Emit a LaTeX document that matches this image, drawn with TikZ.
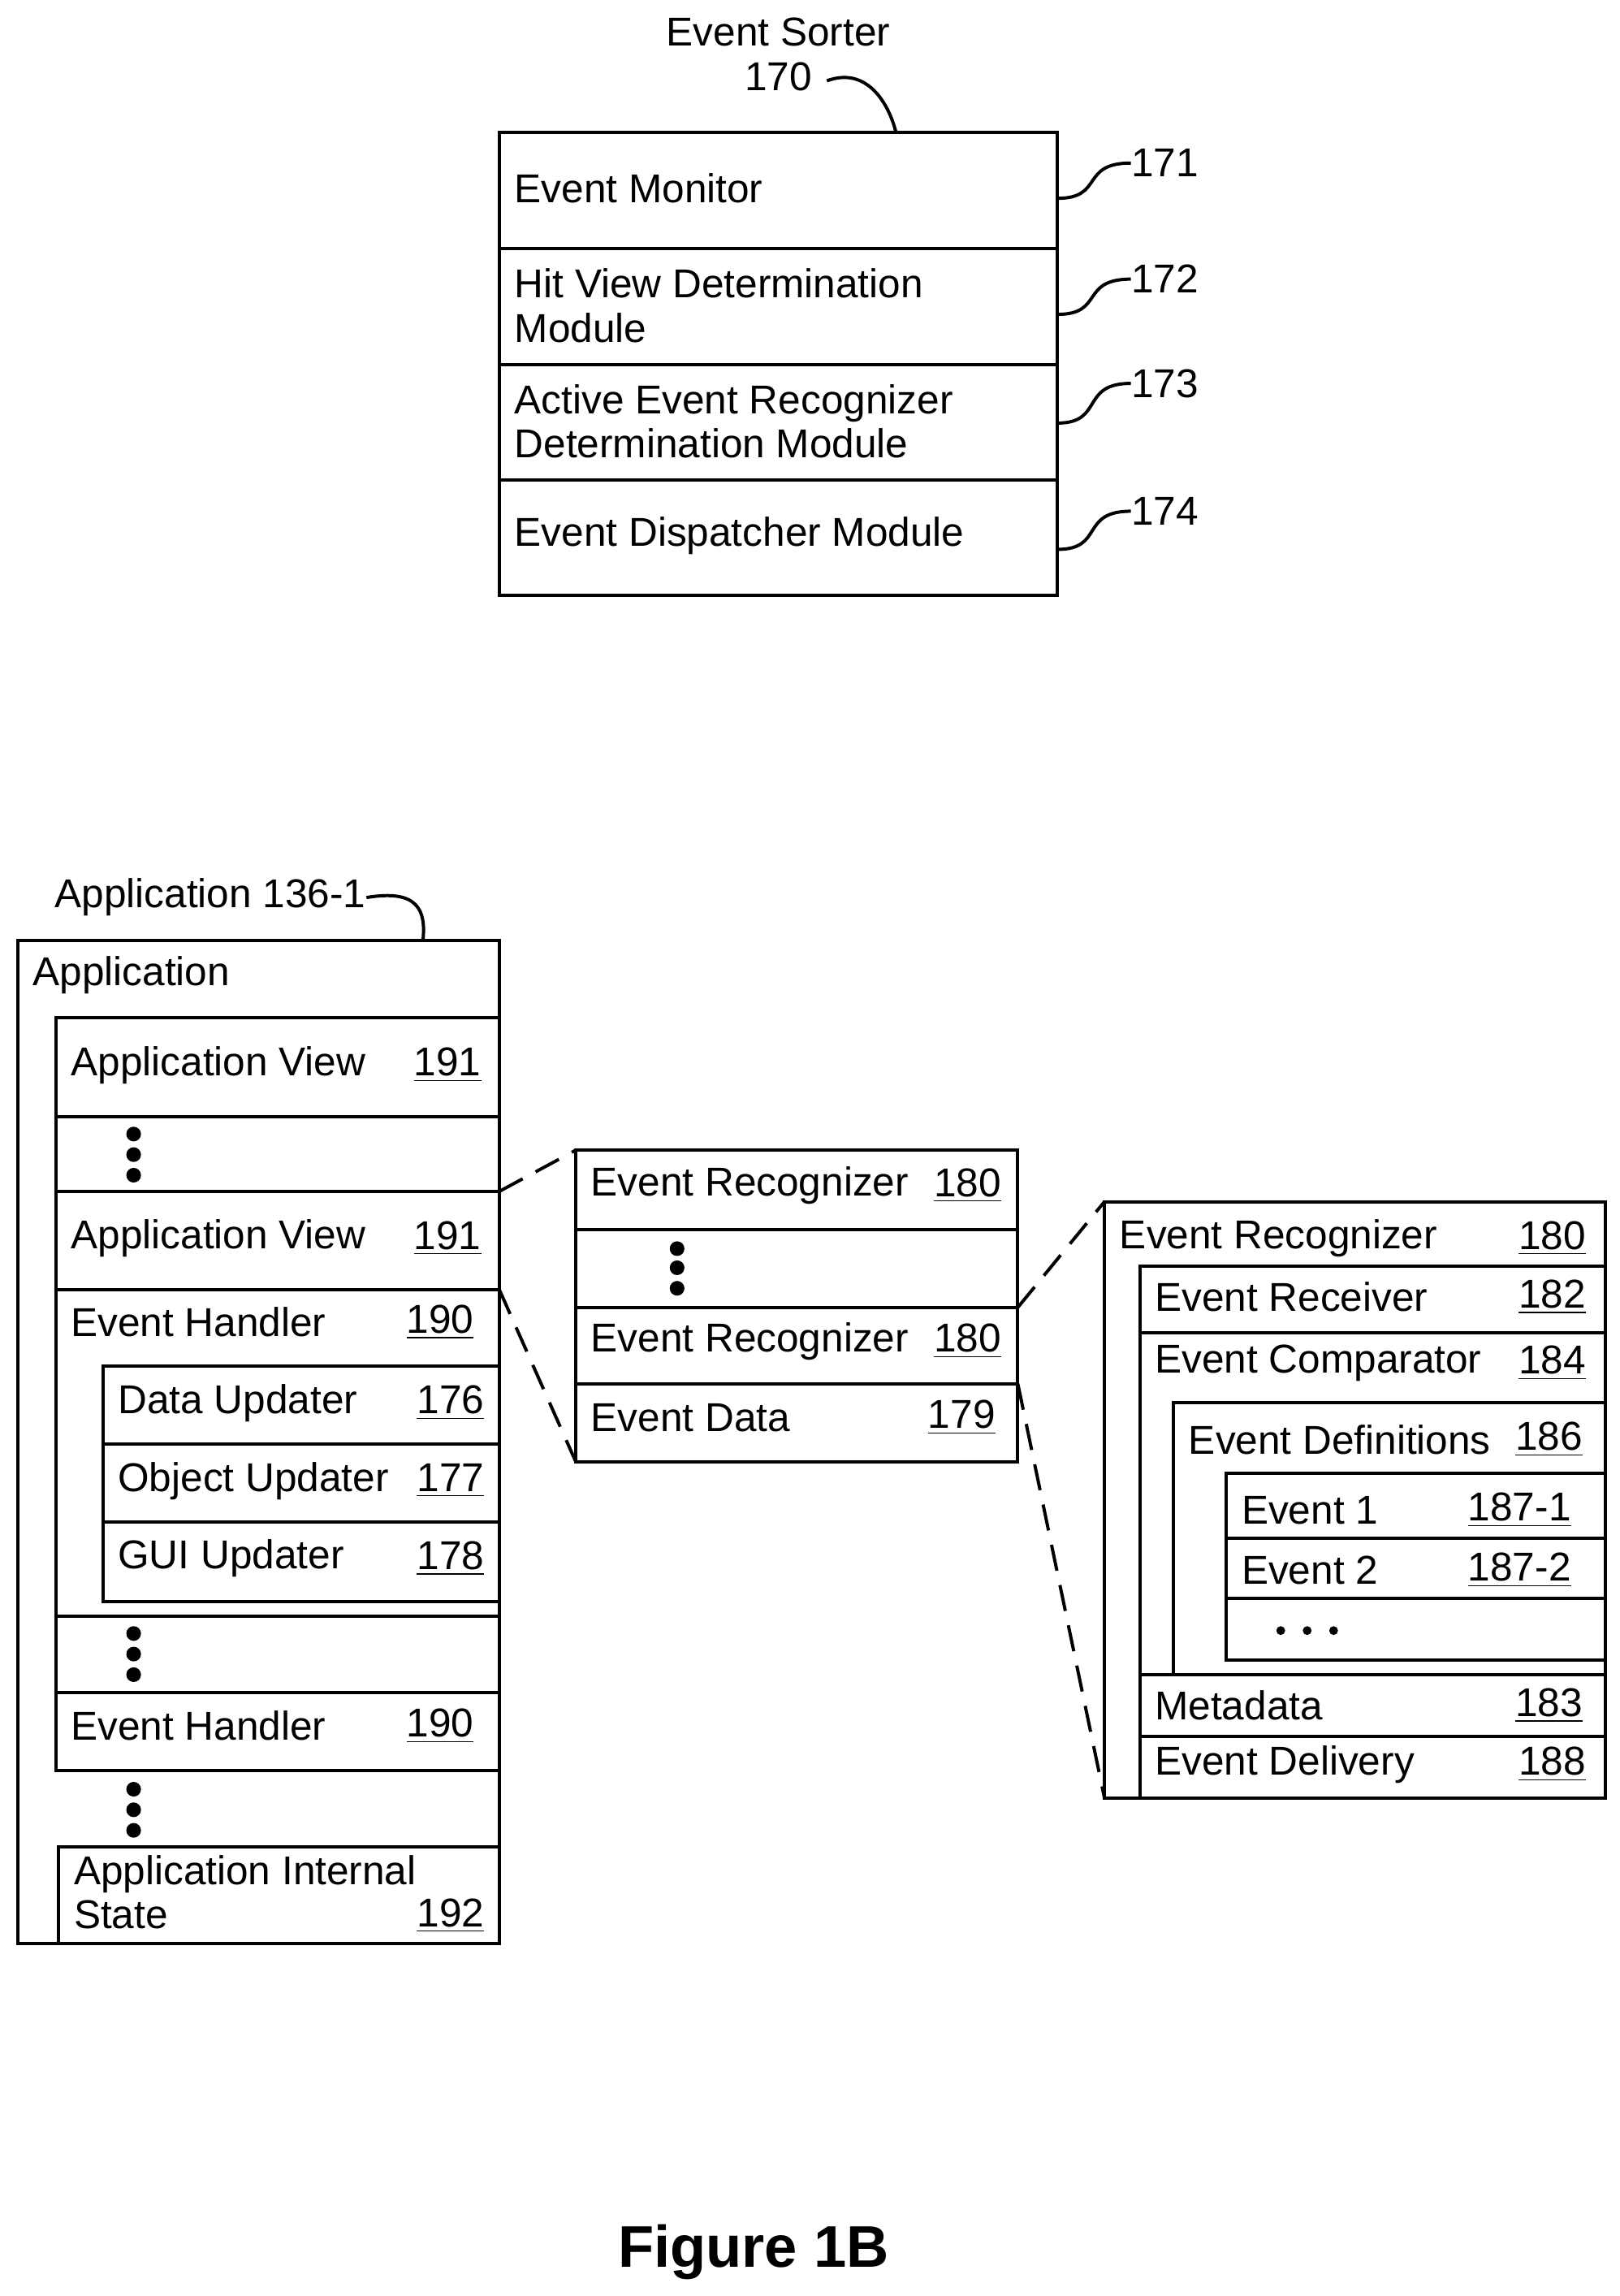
\documentclass[tikz,border=0pt]{standalone}
\usepackage{fontspec}
\setmainfont{Liberation Sans}
\begin{document}
\begin{tikzpicture}[x=0.5pt,y=-0.5pt,
 box/.style={draw,line width=1.1pt},
 t/.style={anchor=west,inner sep=0pt,font=\fontsize{13.7}{15}\selectfont},
 n/.style={anchor=east,inner sep=0pt,font=\fontsize{13.7}{15}\selectfont},
 dashl/.style={line width=1.1pt,dash pattern=on 9pt off 5pt},
 lead/.style={line width=1.1pt},
 dot/.style={circle,fill,inner sep=0pt,minimum size=5pt}]
\useasboundingbox (0,0) rectangle (1103,1563);
% Event sorter
\foreach \a/\b in {90/169,169/248,248/327,327/405}{\draw[box] (340,\a) rectangle (720,\b);}
\node[t] (em) at (350,128) {Event Monitor};
\node[t,align=left] (hv) at (350,208) {Hit View Determination\\Module};
\node[t,align=left] (ae) at (350,287) {Active Event Recognizer\\Determination Module};
\node[t] (ed) at (350,365) {Event Dispatcher Module};
\node[inner sep=0pt,font=\fontsize{13.7}{15}\selectfont,align=center] (es) at (530,37) {Event Sorter\\170};
\coordinate (esA) at (563,55); \coordinate (esB) at (610,90);
\draw[lead] (esA) .. controls (590,45) and (605,70) .. (esB);
\foreach \y/\l/\c in {111/171/135,190/172/214,261/173/288,348/174/374}{
 \node[t] (L\l) at (770,\y) {\l};
 \draw[lead] (720,\c) .. controls (752,\c) and (735,\y) .. (L\l.west);}
% Application
\node[t] (appl) at (37,611) {Application 136-1};
\draw[lead] (appl.east) .. controls (285,605) and (290,620) .. (288,640);
\draw[box] (12,640) rectangle (340,1323);
\node[t] at (22,664) {Application};
\foreach \a/\b in {693/760,760/811,811/878,878/1100,1100/1152,1152/1205}{\draw[box] (38,\a) rectangle (340,\b);}
\draw[box] (40,1257) rectangle (340,1323);
\foreach \a/\b in {930/983,983/1036,1036/1090}{\draw[box] (70,\a) rectangle (340,\b);}
\node[t] at (48,725) {Application View}; \node[n] at (328,725) {\underline{191}};
\node[t] at (48,843) {Application View}; \node[n] at (328,843) {\underline{191}};
\node[t] at (48,900) {Event Handler}; \node[n] at (323,900) {\underline{190}};
\node[t] at (80,955) {Data Updater}; \node[n] at (330,955) {\underline{176}};
\node[t] at (80,1008) {Object Updater}; \node[n] at (330,1008) {\underline{177}};
\node[t] at (80,1061) {GUI Updater}; \node[n] at (330,1061) {\underline{178}};
\node[t] at (48,1175) {Event Handler}; \node[n] at (323,1175) {\underline{190}};
\node[t,align=left] at (50,1288) {Application Internal\\State};
\node[n] at (330,1304) {\underline{192}};
\foreach \y in {772,786,800,1112,1126,1140,1218,1232,1246}{\node[dot] at (91,\y) {};}
% middle
\foreach \a/\b in {783/837,837/890,890/942,942/995}{\draw[box] (392,\a) rectangle (693,\b);}
\node[t] at (402,807) {Event Recognizer}; \node[n] at (682,807) {\underline{180}};
\node[t] at (402,913) {Event Recognizer}; \node[n] at (682,913) {\underline{180}};
\node[t] at (402,965) {Event Data}; \node[n] at (678,965) {\underline{179}};
\foreach \y in {850,863,877}{\node[dot] at (461,\y) {};}
\draw[dashl] (340,811) -- (392,783);
\draw[dashl] (340,878) -- (392,995);
% right
\draw[box] (752,818) rectangle (1093,1224);
\draw[box] (776,862) rectangle (1093,1224);
\foreach \a/\b in {862/907,907/1140,1140/1182,1182/1224}{\draw[box] (776,\a) rectangle (1093,\b);}
\draw[box] (799,955) rectangle (1093,1140);
\foreach \a/\b in {1003/1047,1047/1088,1088/1130}{\draw[box] (835,\a) rectangle (1093,\b);}
\node[t] at (762,843) {Event Recognizer}; \node[n] at (1080,843) {\underline{180}};
\node[t] at (786,883) {Event Receiver}; \node[n] at (1080,883) {\underline{182}};
\node[t] at (786,928) {Event Comparator}; \node[n] at (1080,928) {\underline{184}};
\node[t] at (809,980) {Event Definitions}; \node[n] at (1078,980) {\underline{186}};
\node[t] at (845,1028) {Event 1}; \node[n] at (1070,1028) {\underline{187-1}};
\node[t] at (845,1069) {Event 2}; \node[n] at (1070,1069) {\underline{187-2}};
\foreach \x in {872,890,908}{\node[circle,fill,inner sep=0pt,minimum size=3pt] at (\x,1110) {};}
\node[t] at (786,1161) {Metadata}; \node[n] at (1078,1161) {\underline{183}};
\node[t] at (786,1201) {Event Delivery}; \node[n] at (1080,1201) {\underline{188}};
\draw[dashl] (693,890) -- (752,818);
\draw[dashl] (693,942) -- (752,1224);
\node[font=\fontsize{20}{24}\selectfont\bfseries] at (513,1533) {Figure 1B};
\end{tikzpicture}
\end{document}
